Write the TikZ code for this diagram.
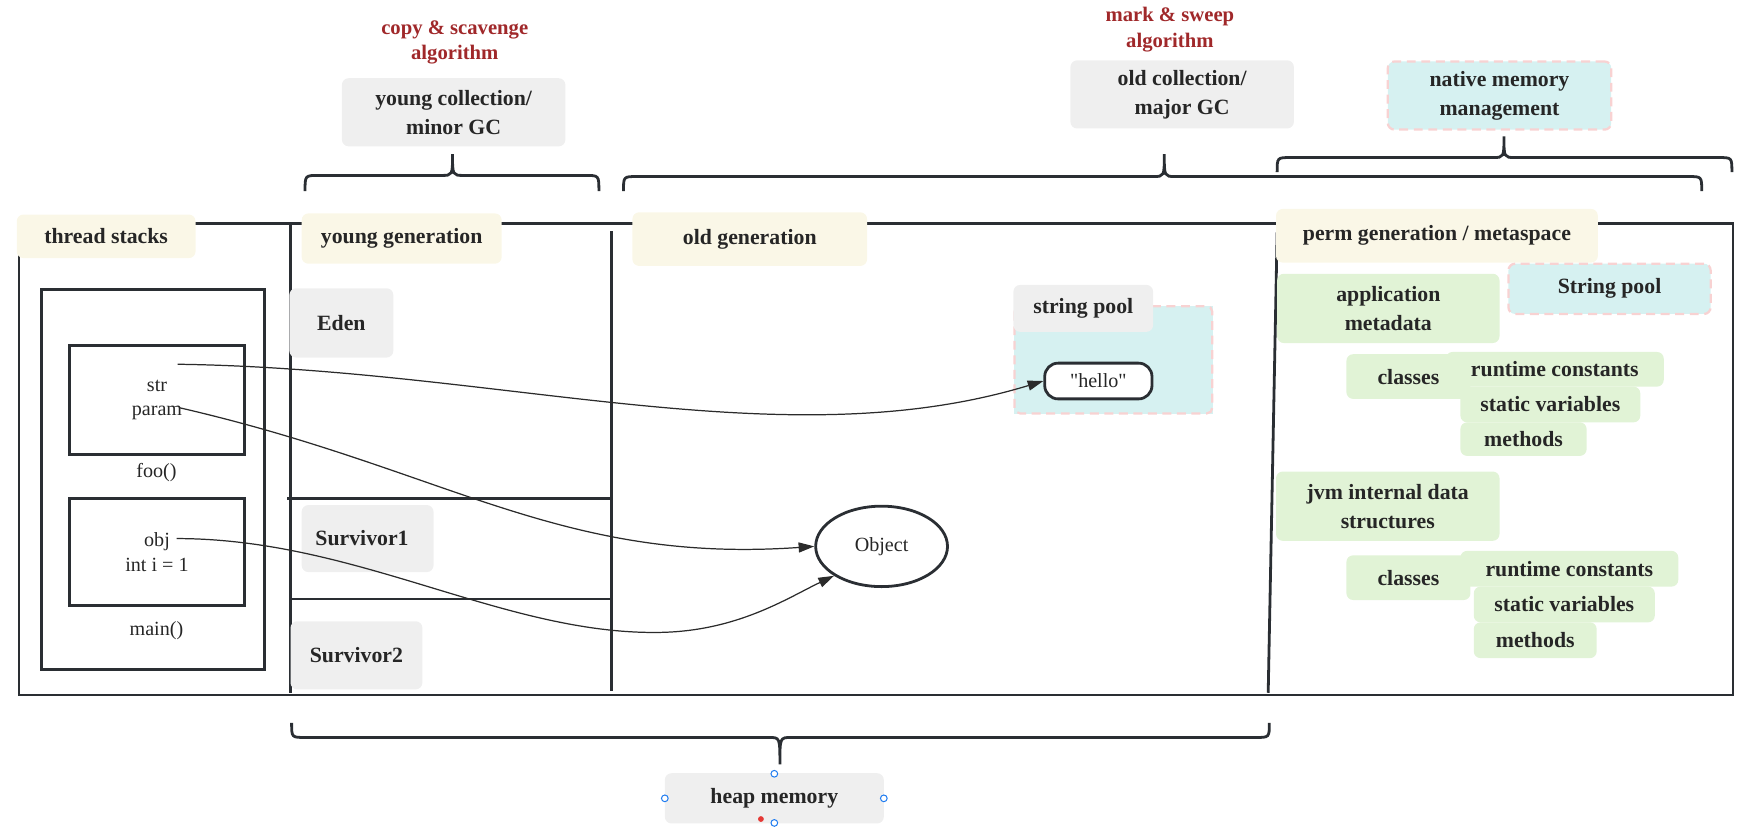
\documentclass[tikz,border=0pt]{standalone}
\usepackage{fontspec}
\setmainfont{Liberation Serif}
\newfontfamily\qfont{Liberation Serif}
\usetikzlibrary{arrows.meta,shapes.geometric}
\definecolor{gbg}{HTML}{EFEFEF}
\definecolor{cream}{HTML}{FAF7E7}
\definecolor{grn}{HTML}{E1F3D6}
\definecolor{cyanbg}{HTML}{D6F1F1}
\definecolor{pinkd}{HTML}{F8D2D2}
\definecolor{redtxt}{HTML}{A0282A}
\definecolor{txt}{HTML}{262626}
\definecolor{lin}{HTML}{2A2E33}
\definecolor{arr}{HTML}{2B2B2B}
\definecolor{hblue}{HTML}{1E7BF0}
\definecolor{hred}{HTML}{E53935}
\newcommand\lblfont{\fontsize{19.5}{26}\selectfont\bfseries}
\newcommand\regfont{\fontsize{18}{22}\selectfont}
\newcommand\redfont{\fontsize{18.5}{22.5}\selectfont\bfseries}
\newcommand\hbrace[6]{%
  \draw[brace] (#1,#4) .. controls (#1,#5) .. ({#1+12},#5) -- ({#2-10},#5)
    .. controls (#2,#5) .. (#2,#6) .. controls (#2,#5) .. ({#2+10},#5)
    -- ({#3-12},#5) .. controls (#3,#5) .. (#3,#4);}
\begin{document}
\begin{tikzpicture}[x=1pt,y=-1pt,
  box/.style={rounded corners=6pt, inner sep=0pt, font=\lblfont, text=txt, align=center},
  graybox/.style={box, fill=gbg},
  creambox/.style={box, fill=cream},
  greenbox/.style={box, fill=grn},
  cyanbox/.style={box, fill=cyanbg, draw=pinkd, dash pattern=on 8pt off 5pt, line width=2pt},
  redlbl/.style={font=\redfont, text=redtxt, align=center, inner sep=0pt},
  frame/.style={draw=lin, line width=2.5pt},
  brace/.style={draw=lin, line width=2.5pt},
  stackbox/.style={draw=lin, line width=2.5pt, inner sep=0pt, font=\regfont, text=txt, align=center},
  plain/.style={font=\regfont, text=txt, inner sep=0pt},
  conn/.style={draw=arr, line width=1.1pt, -{Triangle[length=14pt,width=9pt]}},
  handle/.style={circle, draw=hblue, fill=white, line width=0.9pt, minimum size=6pt, inner sep=0pt}
]
\useasboundingbox (0,0) rectangle (1568,746);

% top labels
\node[redlbl] (copy) at (407,38) {copy \& scavenge\\algorithm};
\node[graybox, minimum width=200pt, minimum height=61pt] (ycoll) at (406,100.5) {young collection/\\minor GC};
\node[redlbl] (mark) at (1047,26.5) {mark \& sweep\\algorithm};
\node[graybox, minimum width=200pt, minimum height=61pt] (ocoll) at (1058,84.5) {old collection/\\major GC};
\node[cyanbox, minimum width=200pt, minimum height=61pt] (native) at (1342,85.5) {native memory\\management};

% braces
\hbrace{273}{405}{536}{171}{157}{138}
\hbrace{558}{1042}{1523}{171}{158}{138}
\hbrace{1143}{1346}{1550}{154}{141}{122}
\hbrace{261}{698}{1136}{647}{660}{684}

% frame
\draw[frame] (17,622) -- (17,200) -- (1551,200) -- (1551,622) -- cycle;
\draw[frame] (260,200) -- (260,620);
\draw[frame] (547,207) -- (547,618);
\draw[frame] (257,446) -- (549,446);
\draw[frame] (260,536) -- (547,536);
\draw[frame] (1143,208) -- (1135,620);

% thread stacks
\node[creambox, minimum width=160pt, minimum height=39pt] (tslbl) at (95,211.5) {thread stacks};
\draw[frame] (37,259) rectangle (237,599);
\node[stackbox, minimum width=157pt, minimum height=98pt] (foo) at (140.5,358) {str\\param};
\node[plain] (foolbl) at (140,423) {foo()};
\node[stackbox, minimum width=157pt, minimum height=96pt] (mainf) at (140.5,494) {obj\\int i = 1};
\node[plain] (mainlbl) at (140,564) {main()};
\coordinate (strp) at (159,326);
\coordinate (parp) at (161,365);
\coordinate (objp) at (158,482);

% young generation
\node[creambox, minimum width=179pt, minimum height=45pt] (yglbl) at (359.5,213.5) {young generation};
\node[graybox, minimum width=93pt, minimum height=62pt] (eden) at (305.5,289) {Eden};
\node[graybox, minimum width=118pt, minimum height=60pt] (s1) at (329,482) {\hspace*{-10pt}Survivor1};
\node[graybox, minimum width=118pt, minimum height=61pt] (s2) at (319,586.5) {Survivor2};

% old generation
\node[creambox, minimum width=210pt, minimum height=48pt] (oglbl) at (671,214) {old generation};
\draw[cyanbg, fill=cyanbg] (908,274) rectangle (1085,370);
\draw[pinkd, line width=2pt, dash pattern=on 8pt off 5pt, rounded corners=5pt] (908,274) rectangle (1085,370);
\node[graybox, minimum width=125pt, minimum height=42pt] (splbl) at (969.5,276) {string pool};
\node[draw=lin, fill=white, line width=2.5pt, rounded corners=12pt, minimum width=96pt, minimum height=32pt, inner sep=0pt, font=\regfont\qfont, text=txt] (hello) at (983,341) {"hello"};
\node[draw=lin, ellipse, fill=white, line width=2.5pt, minimum width=118pt, minimum height=72pt, inner sep=0pt, font=\regfont, text=txt] (obj) at (789,489) {Object};

% perm generation
\node[creambox, minimum width=288pt, minimum height=48pt] (pglbl) at (1286,211) {perm generation / metaspace};
\node[greenbox, minimum width=199pt, minimum height=62pt] (appmeta) at (1242.5,276) {application\\metadata};
\node[cyanbox, minimum width=181pt, minimum height=45pt] (spool2) at (1440.5,258.5) {String pool};
\node[greenbox, minimum width=111pt, minimum height=40pt] (cls1) at (1260.5,337) {classes};
\node[greenbox, minimum width=195pt, minimum height=31pt] (rc1) at (1391.5,330.5) {runtime constants};
\node[greenbox, minimum width=161pt, minimum height=32pt] (sv1) at (1387.5,362) {static variables};
\node[greenbox, minimum width=113pt, minimum height=30pt] (m1) at (1363.5,393) {methods};
\node[greenbox, minimum width=200pt, minimum height=62pt] (jvm) at (1242,453) {jvm internal data\\structures};
\node[greenbox, minimum width=111pt, minimum height=40pt] (cls2) at (1260.5,517) {classes};
\node[greenbox, minimum width=195pt, minimum height=32pt] (rc2) at (1404.5,509) {runtime constants};
\node[greenbox, minimum width=162pt, minimum height=32pt] (sv2) at (1400,541) {static variables};
\node[greenbox, minimum width=110pt, minimum height=32pt] (m2) at (1374,573) {methods};

% heap memory
\node[graybox, minimum width=196pt, minimum height=45pt] (heap) at (693,714.5) {heap memory};
\node[handle] (h1) at (693,692.5) {};
\node[handle] (h2) at (595,714.5) {};
\node[handle] (h3) at (791,714.5) {};
\node[handle] (h4) at (693,736.5) {};
\fill[hred] (681,733) circle (2.6pt);

% connectors
\draw[conn] (strp) .. controls (450,330) and (700,412) .. (hello.west);
\draw[conn] (parp) .. controls (400,420) and (500,505) .. (obj.west);
\draw[conn] (objp) .. controls (320,482) and (450,568) .. (590,566) .. controls (660,565) and (705,535) .. (obj.south west);
\end{tikzpicture}
\end{document}
